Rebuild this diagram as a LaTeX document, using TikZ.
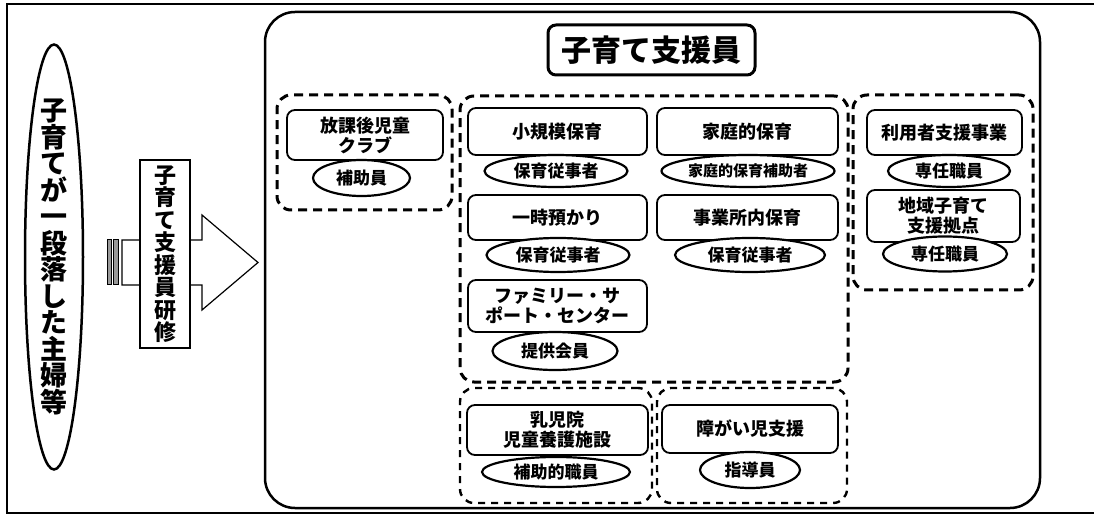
\documentclass[tikz,border=0pt]{standalone}
\usepackage{fontspec}
\setmainfont{Noto Sans CJK JP}
\usetikzlibrary{shapes.geometric}
\begin{document}
\begin{tikzpicture}[x=1pt,y=-1pt,
  pbox/.style={draw, line width=1.8pt, rounded corners=8pt, fill=white, inner sep=0pt, align=center, font=\bfseries\fontsize{18}{20}\selectfont},
  role/.style={draw, ellipse, line width=2.2pt, fill=white, inner sep=0pt, font=\bfseries\fontsize{17}{20}\selectfont},
  grp/.style={draw, line width=3pt, rounded corners=14pt, dash pattern=on 9pt off 6pt, inner sep=0pt},
  grpb/.style={draw, line width=2.4pt, rounded corners=14pt, dash pattern=on 7pt off 6pt, inner sep=0pt},
]
\useasboundingbox (0,0) rectangle (1094,518);
% outer frame
\draw[line width=2pt] (1094,4) -- (7,4) -- (7,513) -- (1094,513);
% main rounded area
\node[draw, line width=2.5pt, rounded corners=30pt, minimum width=775, minimum height=496, inner sep=0pt] (main) at (652.5,260) {};
\node[draw, line width=3pt, rounded corners=8pt, minimum width=207, minimum height=50, inner sep=0pt, font=\bfseries\fontsize{30}{30}\selectfont] (title) at (651.5,50) {子育て支援員};
% groups
\node[grp, minimum width=175, minimum height=115] (g1) at (364.5,152.5) {};
\node[grp, minimum width=388, minimum height=286] (g2) at (654,239) {};
\node[grp, minimum width=180, minimum height=195] (g3) at (943,192.5) {};
\node[grpb, minimum width=192, minimum height=115] (g4) at (556,445.5) {};
\node[grpb, minimum width=190, minimum height=115] (g5) at (752,445.5) {};
% boxes and roles
\node[pbox, minimum width=156, minimum height=50] (b1) at (365,135) {放課後児童\\クラブ};
\node[role, minimum width=97, minimum height=36] (e1) at (361.5,178) {補助員};
\node[pbox, minimum width=179, minimum height=47] (b2) at (557.5,131.5) {小規模保育};
\node[role, minimum width=143, minimum height=32] (e2) at (556,171) {保育従事者};
\node[pbox, minimum width=181, minimum height=47] (b3) at (747.5,131.5) {家庭的保育};
\node[role, minimum width=173, minimum height=32, font=\bfseries\fontsize{15}{18}\selectfont] (e3) at (748,171) {家庭的保育補助者};
\node[pbox, minimum width=179, minimum height=45] (b4) at (557.5,217.5) {一時預かり};
\node[role, minimum width=143, minimum height=34] (e4) at (558,255) {保育従事者};
\node[pbox, minimum width=181, minimum height=45] (b5) at (747.5,217.5) {事業所内保育};
\node[role, minimum width=150, minimum height=34] (e5) at (750,255) {保育従事者};
\node[pbox, minimum width=179, minimum height=52] (b6) at (557.5,306) {ファミリー・サ\\ポート・センター};
\node[role, minimum width=125, minimum height=38] (e6) at (555,351) {提供会員};
\node[pbox, minimum width=181, minimum height=50] (b7) at (557.5,430) {乳児院\\児童養護施設};
\node[role, minimum width=148, minimum height=30] (e7) at (556,472) {補助的職員};
\node[pbox, minimum width=176, minimum height=48] (b8) at (750,429) {障がい児支援};
\node[role, minimum width=100, minimum height=36] (e8) at (750,470) {指導員};
\node[pbox, minimum width=155, minimum height=45] (b9) at (944.5,132.5) {利用者支援事業};
\node[role, minimum width=122, minimum height=32] (e9) at (949,171) {専任職員};
\node[pbox, minimum width=153, minimum height=52] (b10) at (943.5,216) {地域子育て\\支援拠点};
\node[role, minimum width=124, minimum height=35] (e10) at (945,254) {専任職員};
% left side
\node[draw, ellipse, line width=2.5pt, minimum width=58, minimum height=425, inner sep=0pt] (who) at (54,257) {};
\node[inner sep=0pt, align=center, font=\bfseries\fontsize{27}{26.5}\selectfont] (whotext) at (who.center) {子\\育\\て\\が\\一\\段\\落\\し\\た\\主\\婦\\等};
% arrow
\draw[line width=1.2pt, fill=white] (122,240) -- (202,240) -- (202,215) -- (258,262.5) -- (202,310) -- (202,285) -- (122,285) -- cycle;
\draw[line width=1pt, fill=black!40] (107,240) rectangle (111,285);
\draw[line width=1pt, fill=black!40] (113,240) rectangle (118,285);
\node[draw, line width=1.2pt, fill=white, minimum width=50, minimum height=188, inner sep=0pt, align=center, font=\bfseries\fontsize{22}{22.5}\selectfont] (train) at (165,254) {子\\育\\て\\支\\援\\員\\研\\修};
\end{tikzpicture}
\end{document}
